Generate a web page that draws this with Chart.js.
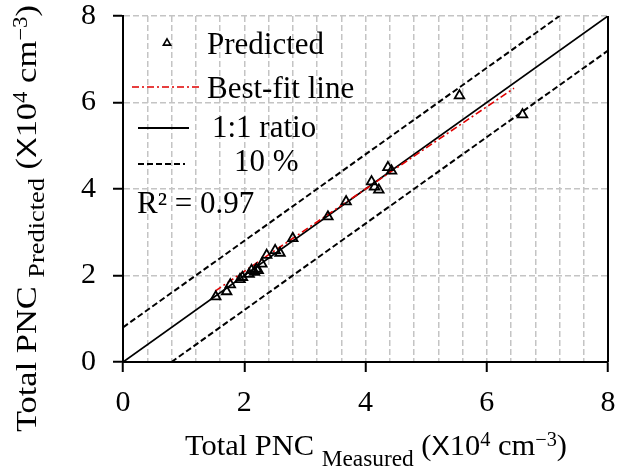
<!DOCTYPE html>
<html>
<head>
<meta charset="utf-8">
<script src="https://cdn.jsdelivr.net/npm/chart.js@4"></script>
<style>
  body { margin: 0; background: #fff; }
  canvas { display: block; }
</style>
</head>
<body>
<canvas id="myChart" width="622" height="475"></canvas>
<script>
// measured vs predicted total PNC (x10^4 cm^-3)
var measured = [1.53, 1.71, 1.77, 1.93, 1.97, 2.08, 2.12, 2.17, 2.20, 2.23, 2.29, 2.37, 2.51, 2.59, 2.80, 3.38, 3.68, 4.10, 4.15, 4.22, 4.37, 4.43, 5.55, 6.59];
var predicted = [1.51, 1.63, 1.79, 1.91, 1.96, 2.03, 2.12, 2.08, 2.15, 2.12, 2.27, 2.47, 2.58, 2.52, 2.86, 3.36, 3.71, 4.17, 4.05, 3.98, 4.50, 4.42, 6.16, 5.72];

// reference lines
var fitX = [1.52, 6.45];
var fitY = [1.64, 6.33];
var ratioX = [0, 8];
var ratioY = [0, 8];
var upperX = [0, 7.2];
var upperY = [0.8, 8];
var lowerX = [0.8, 8];
var lowerY = [0, 7.2];

var tickLabels = [0, 2, 4, 6, 8];

var SERIF = "'Liberation Serif', 'Times New Roman', serif";

function pts(xs, ys) {
  return xs.map(function (x, i) { return { x: x, y: ys[i] }; });
}

function isMajor(v) {
  return tickLabels.some(function (t) { return Math.abs(t - v) < 1e-6; });
}

// draw a list of text runs (different sizes / offsets), stretched to a given length
function drawRuns(ctx, runs, width) {
  var total = 0;
  runs.forEach(function (r) {
    ctx.font = r.size + "px " + (r.family || SERIF);
    r.w = ctx.measureText(r.t).width;
    total += r.w;
  });
  var k = width / total;
  ctx.save();
  ctx.scale(k, 1);
  ctx.fillStyle = "#000";
  ctx.textBaseline = "alphabetic";
  ctx.textAlign = "left";
  var x = 0;
  runs.forEach(function (r) {
    ctx.font = r.size + "px " + (r.family || SERIF);
    ctx.fillText(r.t, x, r.dy || 0);
    x += r.w;
  });
  ctx.restore();
}

var extras = {
  id: "extras",
  afterDraw: function (chart) {
    var ctx = chart.ctx;
    var a = chart.chartArea;

    // right frame line
    ctx.save();
    ctx.strokeStyle = "#000";
    ctx.lineWidth = 2;
    ctx.beginPath();
    ctx.moveTo(a.right, a.top);
    ctx.lineTo(a.right, a.bottom);
    ctx.stroke();
    ctx.restore();

    // legend
    var L = a.left;
    ctx.save();
    ctx.fillStyle = "#000";
    ctx.font = "31px " + SERIF;
    ctx.textBaseline = "alphabetic";

    ctx.strokeStyle = "#000";
    ctx.lineWidth = 1.6;
    ctx.beginPath();
    var tx = L + 44, ty = 43, r = 4.2;
    ctx.moveTo(tx, ty - r);
    ctx.lineTo(tx + r * 0.866, ty + r * 0.5);
    ctx.lineTo(tx - r * 0.866, ty + r * 0.5);
    ctx.closePath();
    ctx.stroke();
    ctx.fillText("Predicted", L + 84, 54);

    ctx.strokeStyle = "#e00000";
    ctx.lineWidth = 1.5;
    ctx.setLineDash([7, 3, 2, 3]);
    ctx.beginPath();
    ctx.moveTo(L + 9, 87);
    ctx.lineTo(L + 78, 87);
    ctx.stroke();
    ctx.fillText("Best-fit line", L + 84, 98);

    ctx.strokeStyle = "#000";
    ctx.lineWidth = 1.8;
    ctx.setLineDash([]);
    ctx.beginPath();
    ctx.moveTo(L + 15, 128);
    ctx.lineTo(L + 66, 128);
    ctx.stroke();
    ctx.fillText("1:1 ratio", L + 89, 137);

    ctx.setLineDash([6, 3]);
    ctx.beginPath();
    ctx.moveTo(L + 15, 164);
    ctx.lineTo(L + 62, 164);
    ctx.stroke();
    ctx.fillText("10 %", L + 111, 171);

    ctx.fillText("R\u00B2 = 0.97", L + 14, 213);
    ctx.restore();

    // axis titles
    ctx.save();
    ctx.translate(185, 455);
    drawRuns(ctx, [
      { t: "Total PNC ", size: 30 },
      { t: "Measured", size: 23, dy: 11 },
      { t: " (", size: 30 },
      { t: "X", size: 27, family: "'Liberation Sans', Arial, sans-serif" },
      { t: "10", size: 30 },
      { t: "4", size: 20, dy: -9 },
      { t: " cm", size: 30 },
      { t: "\u22123", size: 20, dy: -9 },
      { t: ")", size: 30 }
    ], 382);
    ctx.restore();

    ctx.save();
    ctx.translate(36, 432);
    ctx.rotate(-Math.PI / 2);
    drawRuns(ctx, [
      { t: "Total PNC ", size: 30 },
      { t: "Predicted", size: 23, dy: 8 },
      { t: " (", size: 30 },
      { t: "X", size: 27, family: "'Liberation Sans', Arial, sans-serif" },
      { t: "10", size: 30 },
      { t: "4", size: 20, dy: -9 },
      { t: " cm", size: 30 },
      { t: "\u22123", size: 20, dy: -9 },
      { t: ")", size: 30 }
    ], 427);
    ctx.restore();
  }
};

var ctx = document.getElementById("myChart").getContext("2d");
var myChart = new Chart(ctx, {
  type: "scatter",
  data: {
    datasets: [
      {
        label: "Predicted",
        data: pts(measured, predicted),
        pointStyle: "triangle",
        pointRadius: 5.5,
        borderColor: "#000",
        backgroundColor: "rgba(0,0,0,0)",
        borderWidth: 1.8,
      },
      {
        label: "Best-fit line",
        data: pts(fitX, fitY),
        showLine: true,
        pointRadius: 0,
        borderColor: "#e00000",
        borderWidth: 1.6,
        borderDash: [7, 3, 2, 3],
      },
      {
        label: "1:1 ratio",
        data: pts(ratioX, ratioY),
        showLine: true,
        pointRadius: 0,
        borderColor: "#000",
        borderWidth: 1.8,
      },
      {
        label: "10 %",
        data: pts(upperX, upperY),
        showLine: true,
        pointRadius: 0,
        borderColor: "#000",
        borderWidth: 2,
        borderDash: [6, 3],
      },
      {
        label: "10 % low",
        data: pts(lowerX, lowerY),
        showLine: true,
        pointRadius: 0,
        borderColor: "#000",
        borderWidth: 2,
        borderDash: [6, 3],
      },
    ],
  },
  options: {
    responsive: false,
    animation: false,
    layout: { padding: { top: 16, right: 14, left: 0, bottom: 0 } },
    plugins: { legend: { display: false }, tooltip: { enabled: false } },
    scales: {
      x: {
        type: "linear",
        min: 0,
        max: 8,
        afterFit: function (s) {
          s.height = 113;
          s.paddingLeft = 0;
          s.paddingRight = 0;
        },
        ticks: {
          stepSize: 0.4,
          autoSkip: false,
          maxRotation: 0,
          padding: 13,
          color: "#000",
          font: { family: SERIF, size: 30 },
          callback: function (v) { return isMajor(v) ? String(Math.round(v)) : ""; },
        },
        grid: {
          color: function (c) { return c.tick && c.tick.value === 0 ? "rgba(0,0,0,0)" : "#c4c4c4"; },
          lineWidth: 1.5,
          tickLength: 10,
          tickWidth: 2,
          tickColor: function (c) { return c.tick && isMajor(c.tick.value) ? "#000" : "rgba(0,0,0,0)"; },
        },
        border: { color: "#000", width: 2, dash: [6, 3] },
      },
      y: {
        min: 0,
        max: 8,
        afterFit: function (s) {
          s.width = 123;
          s.paddingTop = 0;
          s.paddingBottom = 0;
        },
        ticks: {
          stepSize: 2,
          padding: 17,
          color: "#000",
          font: { family: SERIF, size: 30 },
        },
        grid: {
          color: function (c) { return c.tick && c.tick.value === 0 ? "rgba(0,0,0,0)" : "#c4c4c4"; },
          lineWidth: 1.5,
          tickLength: 10,
          tickWidth: 2,
          tickColor: "#000",
        },
        border: { color: "#000", width: 2, dash: [6, 3] },
      },
    },
  },
  plugins: [extras],
});
</script>
</body>
</html>
